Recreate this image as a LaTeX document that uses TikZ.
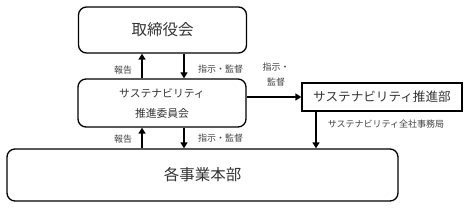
\documentclass[tikz,border=0pt]{standalone}
\usepackage{fontspec}
\setmainfont{Noto Sans CJK JP}
\usetikzlibrary{arrows.meta}
\begin{document}
\begin{tikzpicture}[x=1pt,y=-1pt,
  rbox/.style={draw,line width=1.3pt,rounded corners=8pt,inner sep=0pt,text=black!80},
  sbox/.style={draw,line width=1.3pt,inner sep=0pt,text=black!80},
  conn/.style={line width=2.4pt,-{Triangle[length=6pt,width=7pt]}},
  lab/.style={font=\fontsize{9}{11}\selectfont,text=black!75,inner sep=0pt},
  big/.style={font=\fontsize{15.5}{18}\selectfont},
  mid/.style={font=\fontsize{10.8}{20}\selectfont}]
\useasboundingbox (0,0) rectangle (469,207);
\node[rbox,big,minimum width=168pt,minimum height=46pt] (board) at (162.5,30) {取締役会};
\node[rbox,mid,minimum width=168pt,minimum height=48pt,align=center] (comm) at (162,103) {サステナビリティ\\推進委員会};
\node[sbox,font=\fontsize{12.6}{15}\selectfont,minimum width=160pt,minimum height=28pt] (prom) at (382,97) {サステナビリティ推進部};
\node[rbox,big,minimum width=391pt,minimum height=52pt] (div) at (202.5,175) {各事業本部};
% arrows between board and committee
\draw[conn] (comm.north -| 142,0) -- (board.south -| 142,0);
\draw[conn] (board.south -| 184,0) -- (comm.north -| 184,0);
\draw[conn] (div.north -| 142,0) -- (comm.south -| 142,0);
\draw[conn] (comm.south -| 184,0) -- (div.north -| 184,0);
\draw[conn] (comm.east |- 0,97) -- (prom.west);
\draw[conn] (prom.south -| 316,0) -- (div.north -| 316,0);
% labels
\node[lab] (l1) at (123,70) {報告};
\node[lab] (l2) at (220.5,69) {指示・監督};
\node[lab] (l3) at (123,139) {報告};
\node[lab] (l4) at (220.5,138) {指示・監督};
\node[lab,align=center] (l5) at (276,74.5) {指示・\\[4pt]監督};
\node[lab] (l6) at (386,124) {サステナビリティ全社事務局};
\end{tikzpicture}
\end{document}
